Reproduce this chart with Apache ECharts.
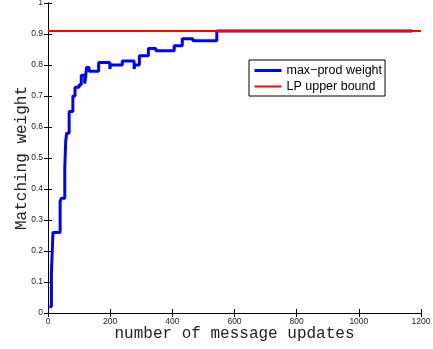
<!DOCTYPE html>
<html>
<head>
<meta charset="utf-8">
<script src="https://cdn.jsdelivr.net/npm/echarts@6/dist/echarts.min.js"></script>
<style>html,body{margin:0;padding:0;background:#fff}#c{width:433px;height:349px}</style>
</head>
<body>
<div id="c"></div>
<script>
// Step change points (message updates) and matching weight from that point on
var stepX = [4, 11, 16, 39, 43, 54, 57, 60, 68, 80, 87, 100, 107, 118, 121, 124, 132, 163, 199, 201, 239, 277, 280, 294, 323, 347, 406, 432, 466, 543, 1172];
var stepY = [0.02, 0.13, 0.26, 0.36, 0.37, 0.47, 0.555, 0.58, 0.65, 0.70, 0.728, 0.736, 0.767, 0.74, 0.76, 0.792, 0.78, 0.808, 0.787, 0.80, 0.813, 0.787, 0.80, 0.83, 0.853, 0.846, 0.862, 0.885, 0.878, 0.91, 0.91];
var lpX = [0, 1200];
var lpY = [0.91, 0.91];
var seriesNames = ['max\u2212prod weight', 'LP upper bound'];
var xTitle = 'number of message updates';
var yTitle = 'Matching weight';

var maxProd = stepX.map(function (x, i) { return [x, stepY[i]]; });
var lp = lpX.map(function (x, i) { return [x, lpY[i]]; });

var labelStyle = { color: '#222', fontFamily: 'Liberation Sans', fontSize: 8.5 };
var titleStyle = { color: '#222', fontFamily: 'Liberation Mono', fontSize: 16 };
var lineAx = { show: true, lineStyle: { color: '#000', width: 1 } };
var tickIn = { show: true, inside: true, length: 4, lineStyle: { color: '#000' } };
var plain = function (v) { return String(Math.round(v * 1000) / 1000); };

var chart = echarts.init(document.getElementById('c'), null, { renderer: 'canvas' });
chart.setOption({
  animation: false,
  backgroundColor: '#fff',
  grid: { left: 48, right: 12, top: 3, bottom: 36, containLabel: false, outerBoundsMode: 'none' },
  legend: {
    left: 249, top: 60, orient: 'vertical',
    backgroundColor: '#fff', borderColor: '#000', borderWidth: 1, borderRadius: 0,
    padding: [4, 3, 3, 4], itemGap: 3, itemWidth: 27, itemHeight: 14,
    textStyle: { fontFamily: 'Liberation Sans', fontSize: 12.5, color: '#000' },
    itemStyle: { opacity: 0 },
    data: [
      { name: seriesNames[0], lineStyle: { width: 3 }, itemStyle: { opacity: 0 } },
      { name: seriesNames[1], lineStyle: { width: 2 }, itemStyle: { opacity: 0 } }
    ]
  },
  xAxis: [{
    type: 'value', min: 0, max: 1200, interval: 200, position: 'bottom',
    name: xTitle, nameLocation: 'middle', nameGap: 13, nameMoveOverlap: false, nameTextStyle: titleStyle,
    axisLine: lineAx, axisTick: tickIn, axisLabel: Object.assign({ margin: 4, formatter: plain }, labelStyle),
    splitLine: { show: false }
  }, {
    type: 'value', min: 0, max: 1200, interval: 200, position: 'top',
    axisLine: lineAx, axisTick: tickIn, axisLabel: { show: false }, splitLine: { show: false }
  }],
  yAxis: [{
    type: 'value', min: 0, max: 1, interval: 0.1, position: 'left',
    name: yTitle, nameLocation: 'middle', nameGap: 18, nameMoveOverlap: false, nameTextStyle: titleStyle,
    axisLine: lineAx, axisTick: tickIn, axisLabel: Object.assign({ margin: 5, formatter: plain }, labelStyle),
    splitLine: { show: false }
  }, {
    type: 'value', min: 0, max: 1, interval: 0.1, position: 'right',
    axisLine: lineAx, axisTick: tickIn, axisLabel: { show: false }, splitLine: { show: false }
  }],
  series: [{
    name: seriesNames[0], type: 'line', step: 'end', data: maxProd,
    symbol: 'none', showSymbol: false,
    lineStyle: { color: '#0000ff', width: 3 }, itemStyle: { color: '#0000ff' }
  }, {
    name: seriesNames[1], type: 'line', data: lp,
    symbol: 'none', showSymbol: false,
    lineStyle: { color: '#ff0000', width: 2 }, itemStyle: { color: '#ff0000' }
  }]
});
</script>
</body>
</html>
